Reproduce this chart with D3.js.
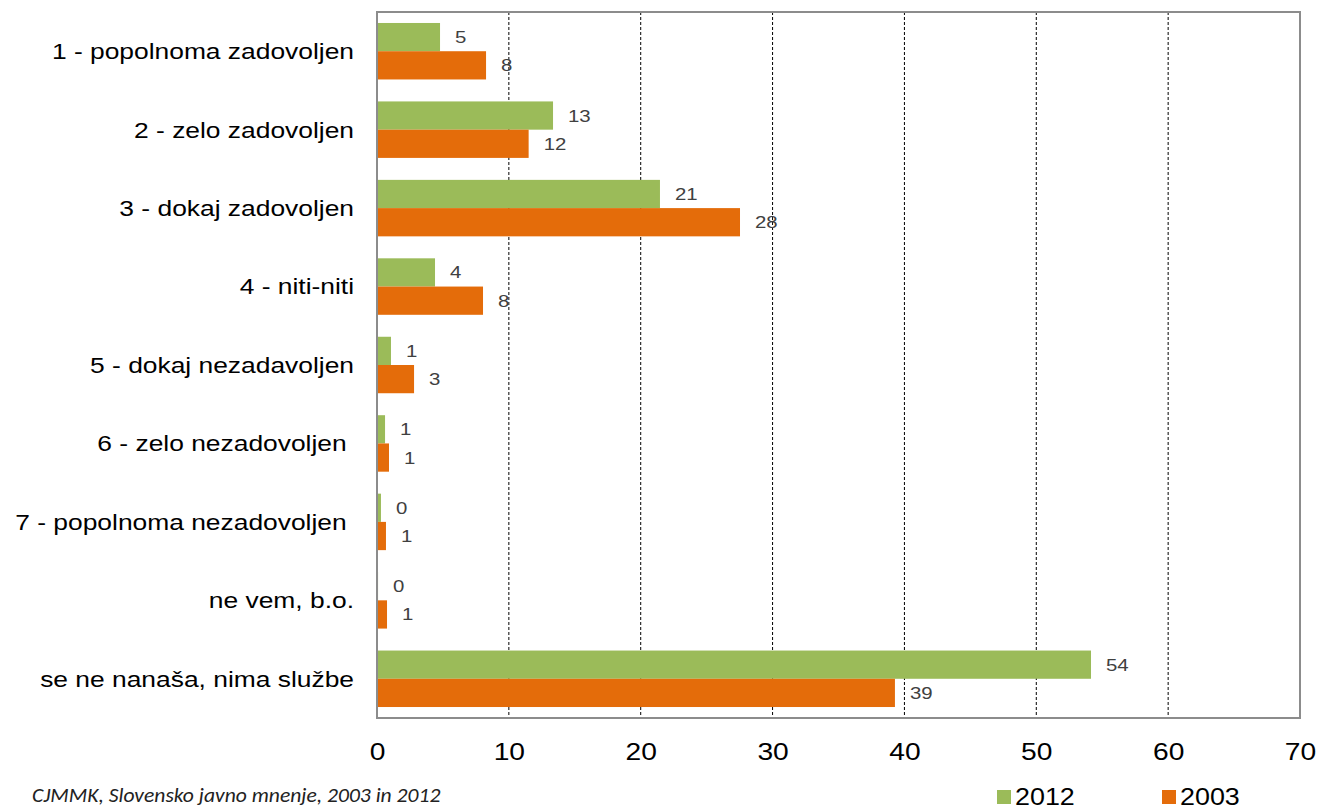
<!DOCTYPE html>
<html><head><meta charset="utf-8">
<script src="https://cdn.jsdelivr.net/npm/d3@7"></script>
<style>body{margin:0;background:#fff}svg{display:block}</style>
</head><body>
<script>
const categories = ["1 - popolnoma zadovoljen","2 - zelo zadovoljen","3 - dokaj zadovoljen","4 - niti-niti","5 - dokaj nezadavoljen","6 - zelo nezadovoljen ","7 - popolnoma nezadovoljen ","ne vem, b.o.","se ne nanaša, nima službe"];
const values2012 = [4.78,13.35,21.46,4.40,1.06,0.61,0.30,0.08,54.15];
const values2003 = [8.27,11.5,27.53,8.04,2.81,0.91,0.68,0.76,39.28];
const labels2012 = ["5","13","21","4","1","1","0","0","54"];
const labels2003 = ["8","12","28","8","3","1","1","1","39"];
const series = ["2012","2003"];
const colors = ["#9BBB59","#E46C0A"];
const xTicks = [0,10,20,30,40,50,60,70];
const source = "CJMMK, Slovensko javno mnenje, 2003 in 2012";

const W=1319,H=810, SX=1.2;
const FONT="'Liberation Sans', Arial, sans-serif";
const m={l:377,r:1300,t:12,b:718};
const svg=d3.select("body").append("svg").attr("width",W).attr("height",H);
const x=d3.scaleLinear().domain([0,70]).range([m.l,m.r]);
const y=d3.scaleBand().domain(categories).range([m.t,m.b]).paddingInner(0.28).paddingOuter(0.14);
const ys=d3.scaleBand().domain(series).range([0,y.bandwidth()]);

// gridlines
svg.append("g").selectAll("line").data(xTicks.filter(d=>d>0&&d<70)).join("line")
 .attr("x1",d=>x(d)).attr("x2",d=>x(d)).attr("y1",m.t).attr("y2",m.b)
 .attr("stroke","#000").attr("stroke-width",1).attr("stroke-dasharray","3,2");

const data=[values2012,values2003];
const labs=[labels2012,labels2003];
series.forEach((s,si)=>{
  const g=svg.append("g");
  g.selectAll("rect").data(categories).join("rect")
   .attr("x",x(0)).attr("y",(c)=>y(c)+ys(s))
   .attr("width",(c,i)=>x(data[si][i])-x(0)).attr("height",ys.bandwidth())
   .attr("fill",colors[si]);
  g.selectAll("text").data(categories).join("text")
   .attr("transform",(c,i)=>`translate(${x(data[si][i])+15},${y(c)+ys(s)+ys.bandwidth()/2}) scale(${SX},1)`)
   .attr("dy","0.35em").attr("font-family",FONT)
   .attr("font-size",17).attr("fill","#404040").text((c,i)=>labs[si][i]);
});

// border
svg.append("rect").attr("x",m.l).attr("y",m.t).attr("width",m.r-m.l).attr("height",m.b-m.t)
 .attr("fill","none").attr("stroke","#8c8c8c").attr("stroke-width",2);

// x axis labels
const xa=svg.append("g").attr("transform",`translate(0,${m.b})`)
 .call(d3.axisBottom(x).tickValues(xTicks).tickSize(0).tickFormat(d3.format("d")));
xa.select(".domain").remove();
xa.selectAll("text").attr("font-family",FONT).attr("font-size",23.5).attr("fill","#000")
 .attr("y",null).attr("dy",null).attr("transform",`translate(0,42) scale(${SX},1)`);

// y axis labels
const ya=svg.append("g").attr("transform",`translate(${m.l},0)`)
 .call(d3.axisLeft(y).tickSize(0));
ya.select(".domain").remove();
ya.selectAll("text").attr("font-family",FONT).attr("font-size",22).attr("fill","#000")
 .attr("x",null).attr("dy","0.36em").attr("transform",`translate(-23,0) scale(${SX},1)`).style("white-space","pre");

// legend
const lg=svg.append("g");
const lx=[997,1162];
series.forEach((s,i)=>{
  lg.append("rect").attr("x",lx[i]).attr("y",790).attr("width",14).attr("height",14).attr("fill",colors[i]);
  lg.append("text").attr("transform",`translate(${lx[i]+18},805) scale(1.12,1)`)
   .attr("font-family",FONT).attr("font-size",24).attr("fill","#000").text(s);
});

svg.append("text").attr("transform",`translate(32,802) scale(1.08,1)`)
 .attr("font-family","Carlito, 'Open Sans', sans-serif").attr("font-style","italic")
 .attr("font-size",20).attr("fill","#222").text(source);
</script>
</body></html>
